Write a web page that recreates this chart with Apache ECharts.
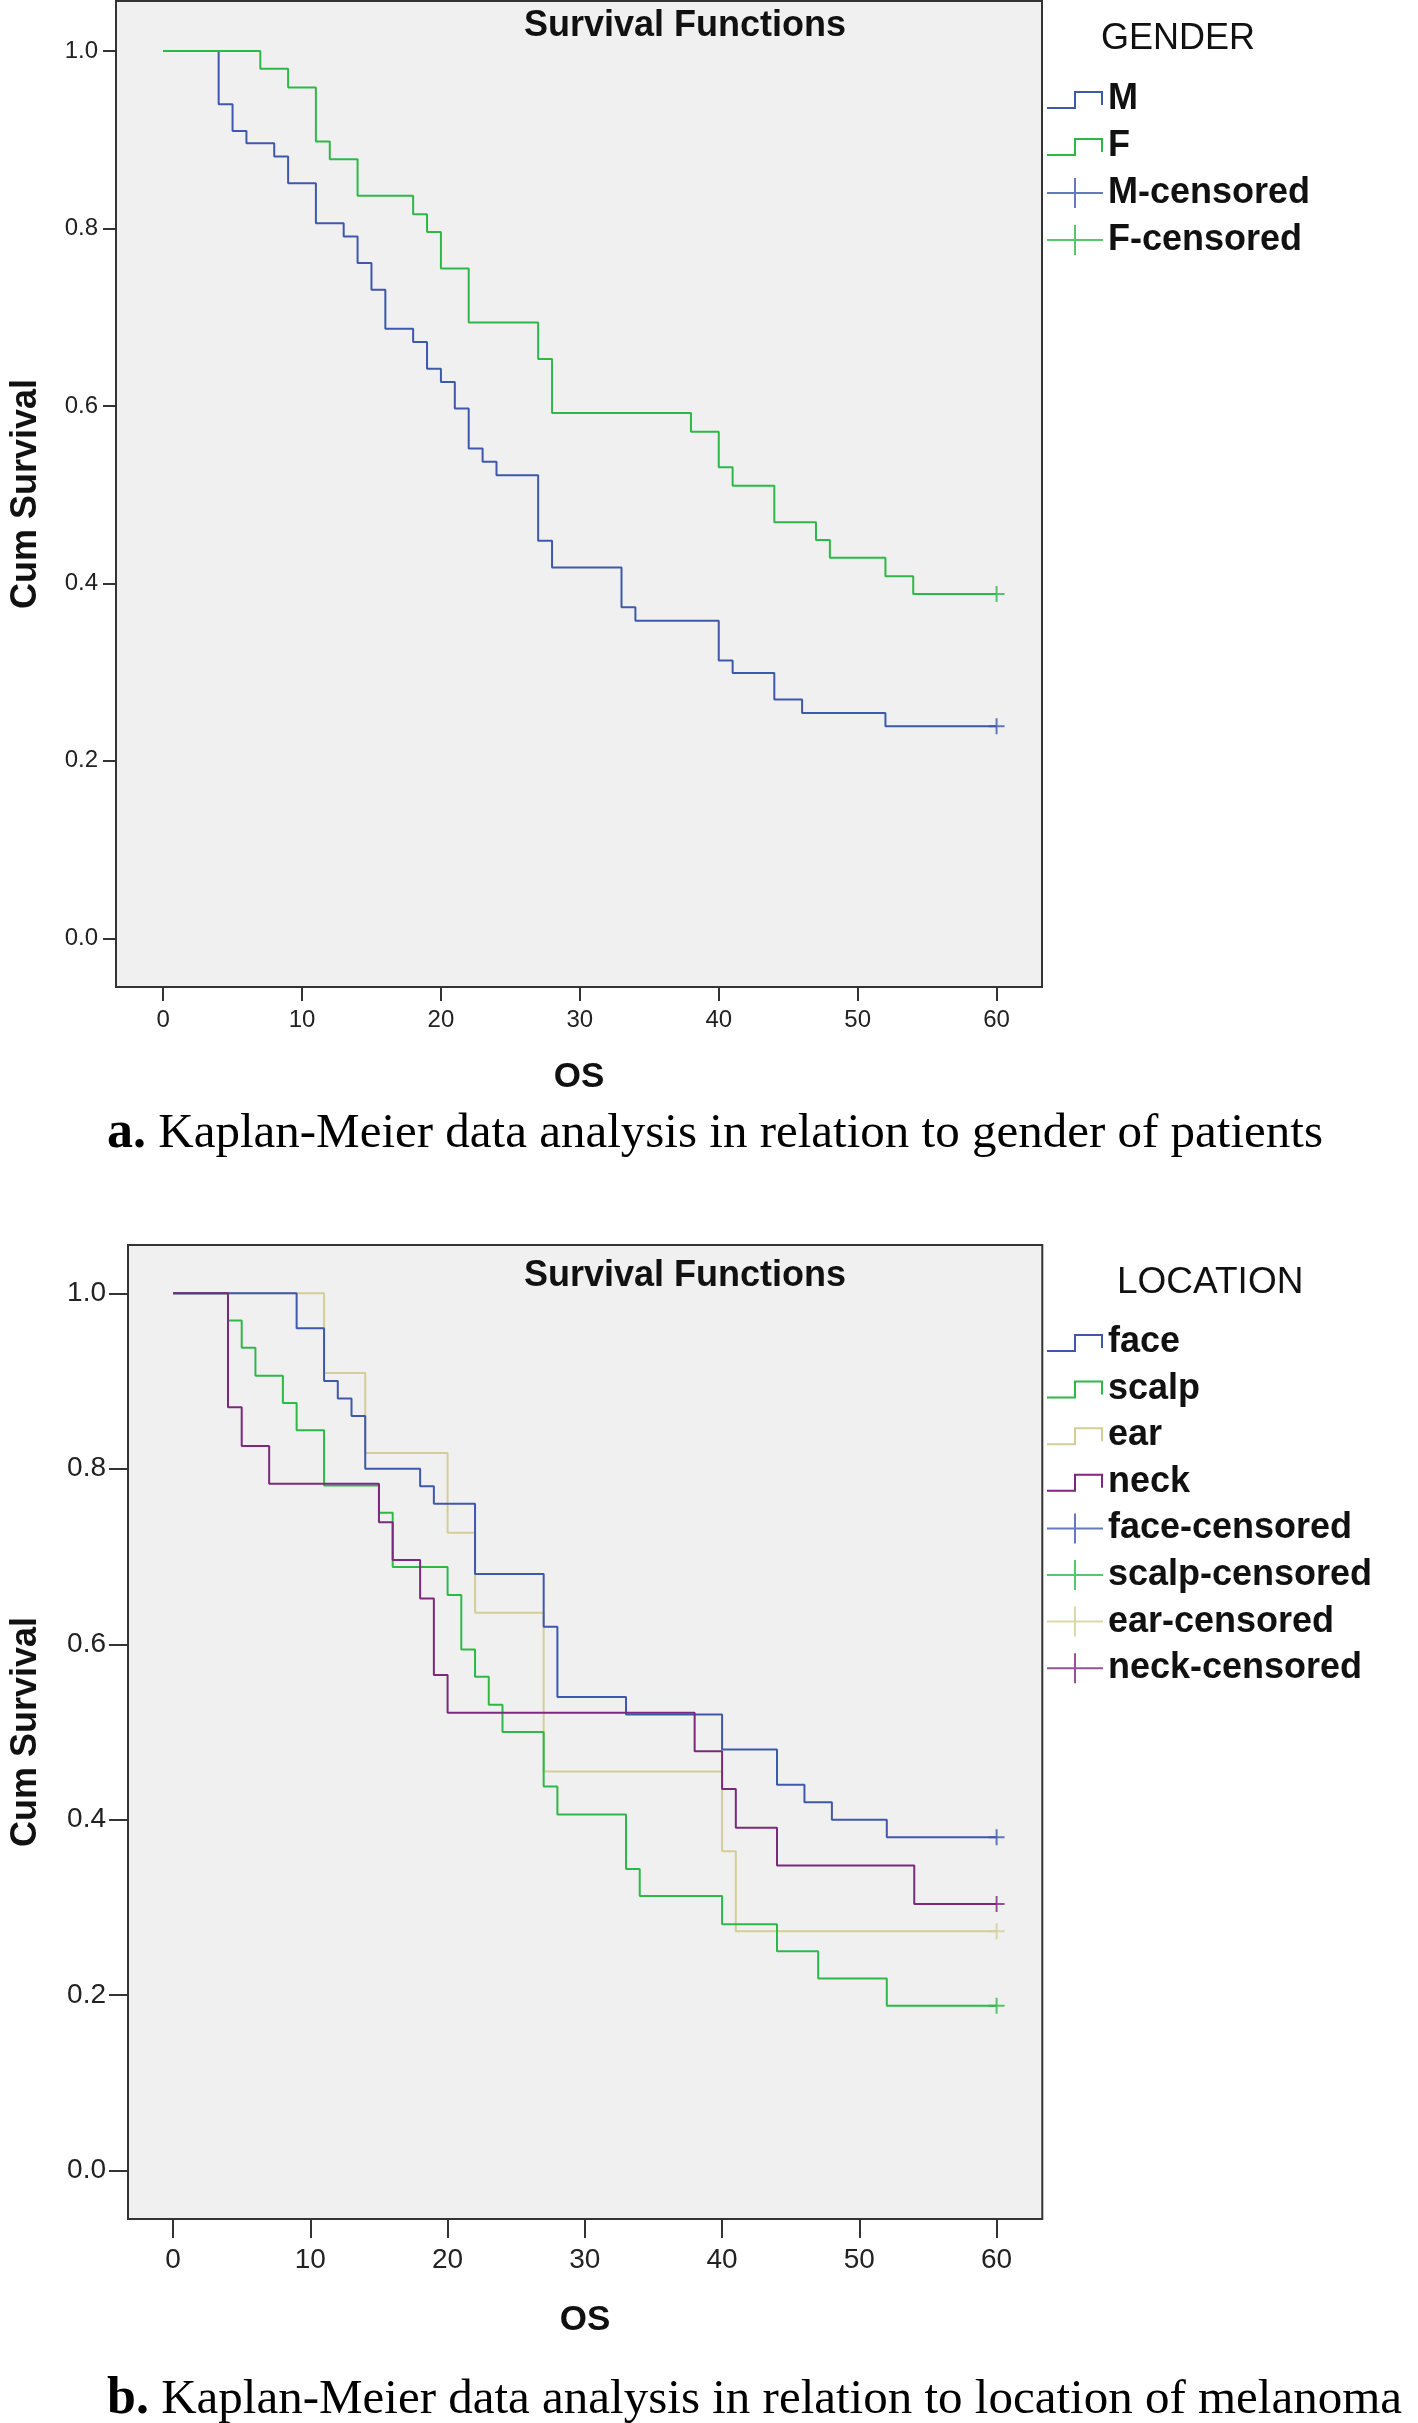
<!DOCTYPE html>
<html><head><meta charset="utf-8">
<script src="https://cdn.jsdelivr.net/npm/echarts@6/dist/echarts.min.js"></script>
<style>html,body{margin:0;padding:0;background:#fff}#c{width:1418px;height:2423px}</style>
</head><body><div id="c"></div>
<script>
// ---------- data: chart a (gender) ----------
const mTimes = [0,4,5,6,8,9,11,13,14,15,16,18,19,20,21,22,23,24,27,28,33,34,40,41,44,46,52,60];
const mSurv  = [1,0.940,0.910,0.896,0.881,0.851,0.806,0.791,0.761,0.731,0.687,0.672,0.642,0.627,0.597,0.552,0.537,0.522,0.448,0.418,0.373,0.358,0.313,0.299,0.269,0.254,0.239,0.239];
const fTimes = [0,7,9,11,12,14,18,19,20,22,27,28,38,40,41,44,47,48,52,54,60];
const fSurv  = [1,0.980,0.959,0.898,0.878,0.837,0.816,0.796,0.755,0.694,0.653,0.592,0.571,0.531,0.510,0.469,0.449,0.429,0.408,0.388,0.388];
const mCensorTimes = [60];
const fCensorTimes = [60];
// ---------- data: chart b (location) ----------
const faceTimes  = [0,9,11,12,13,14,18,19,22,27,28,33,40,44,46,48,52,60];
const faceSurv   = [1,0.96,0.90,0.88,0.86,0.80,0.78,0.76,0.68,0.62,0.54,0.52,0.48,0.44,0.42,0.40,0.38,0.38];
const scalpTimes = [0,4,5,6,8,9,11,15,16,20,21,22,23,24,27,28,33,34,40,44,47,52,60];
const scalpSurv  = [1,0.969,0.938,0.906,0.875,0.844,0.781,0.750,0.688,0.656,0.594,0.563,0.531,0.500,0.438,0.406,0.344,0.313,0.281,0.250,0.219,0.188,0.188];
const earTimes   = [0,11,14,20,22,27,40,41,60];
const earSurv    = [1,0.909,0.818,0.727,0.636,0.455,0.364,0.273,0.273];
const neckTimes  = [0,4,5,7,15,16,18,19,20,38,40,41,44,54,60];
const neckSurv   = [1,0.870,0.826,0.783,0.739,0.696,0.652,0.565,0.522,0.478,0.435,0.391,0.348,0.304,0.304];
const faceCensorTimes = [60], scalpCensorTimes = [60], earCensorTimes = [60], neckCensorTimes = [60];
// ---------- ticks / labels ----------
const xTicks = [0,10,20,30,40,50,60];
const yTicks = [0,0.2,0.4,0.6,0.8,1.0];
const genderNames = ['M','F'];
const locationNames = ['face','scalp','ear','neck'];

const SANS = 'Liberation Sans, Arial, sans-serif';
const SERIF = 'Liberation Serif, Times New Roman, serif';
const C = {blue:'#3e58ac', green:'#2eb848', tan:'#d3ce97', purple:'#7c287d'};

function pairs(t, s){ return t.map((v,i)=>[v, s[i]]); }
function censorPts(ct, t, s){
  return ct.map(c=>{ let v=s[0]; for(let i=0;i<t.length;i++){ if(t[i]<=c) v=s[i]; } return [c, v]; });
}
const STEP_ICON = 'path://M0,0 M0,23 H27 V7 H56 V21 H54 V9 H29 V25 H0 Z M56,30';
const CROSS_ICON = 'path://M0,14 H27 V0 H29 V14 H56 V16 H29 V30 H27 V16 H0 Z';
const PLUS = 'path://M7,0 H9 V7 H16 V9 H9 V16 H7 V9 H0 V7 H7 Z';

function stepSeries(name, t, s, color, gi){
  return {type:'line', name, step:'end', symbol:'none', xAxisIndex:gi, yAxisIndex:gi,
    data:pairs(t,s), lineStyle:{color, width:2}, itemStyle:{color}, silent:true, z:3};
}
function censorSeries(name, ct, t, s, color, gi){
  return {type:'scatter', name, xAxisIndex:gi, yAxisIndex:gi, symbol:PLUS, symbolSize:16,
    data:censorPts(ct,t,s), itemStyle:{color}, silent:true, z:4};
}
function xAx(gi, min, max, tickLen, labSize, margin, nameGap){
  return {gridIndex:gi, type:'value', min, max,
    axisLine:{show:false, onZero:false},
    axisTick:{show:true, inside:false, length:tickLen, customValues:xTicks, lineStyle:{color:'#333', width:2}},
    axisLabel:{customValues:xTicks, margin, fontSize:labSize, fontFamily:SANS, color:'#222'},
    splitLine:{show:false},
    name:'OS', nameLocation:'middle', nameGap,
    nameTextStyle:{fontSize:35, fontWeight:'bold', fontFamily:SANS, color:'#111'}};
}
function yAx(gi, min, max, tickLen, labSize, margin, nameGap){
  return {gridIndex:gi, type:'value', min, max,
    axisLine:{show:false, onZero:false},
    axisTick:{show:true, inside:false, length:tickLen, customValues:yTicks, lineStyle:{color:'#333', width:2}},
    axisLabel:{customValues:yTicks, margin, fontSize:labSize, fontFamily:SANS, color:'#222', formatter:v=>v.toFixed(1)},
    splitLine:{show:false},
    name:'Cum Survival', nameLocation:'middle', nameRotate:90, nameGap,
    nameTextStyle:{fontSize:36, fontWeight:'bold', fontFamily:SANS, color:'#111'}};
}
const legendText = {fontSize:36, fontWeight:'bold', fontFamily:SANS, color:'#111', lineHeight:40};

const chart = echarts.init(document.getElementById('c'), null, {renderer:'canvas'});
chart.setOption({
  animation:false,
  backgroundColor:'#fff',
  title:[
    {text:'Survival Functions', left:685, top:6, textAlign:'center', padding:0,
      textStyle:{fontSize:36, fontWeight:'bold', fontFamily:SANS, color:'#111', lineHeight:40}},
    {text:'GENDER', left:1101, top:19, padding:0,
      textStyle:{fontSize:36, fontWeight:'normal', fontFamily:SANS, color:'#111', lineHeight:40}},
    {text:'{b|a.} Kaplan-Meier data analysis in relation to gender of patients', left:107, top:1106, padding:0,
      textStyle:{fontSize:49, fontWeight:'normal', fontFamily:SERIF, color:'#000', lineHeight:56,
        rich:{b:{fontSize:52, fontWeight:'bold', fontFamily:SERIF, color:'#000', lineHeight:56}}}},
    {text:'Survival Functions', left:685, top:1256, textAlign:'center', padding:0,
      textStyle:{fontSize:36, fontWeight:'bold', fontFamily:SANS, color:'#111', lineHeight:40}},
    {text:'LOCATION', left:1117, top:1263, padding:0,
      textStyle:{fontSize:37, fontWeight:'normal', fontFamily:SANS, color:'#111', lineHeight:40}},
    {text:'{b|b.} Kaplan-Meier data analysis in relation to location of melanoma', left:107, top:2372, padding:0,
      textStyle:{fontSize:49, fontWeight:'normal', fontFamily:SERIF, color:'#000', lineHeight:56,
        rich:{b:{fontSize:52, fontWeight:'bold', fontFamily:SERIF, color:'#000', lineHeight:56}}}}
  ],
  legend:[
    {orient:'vertical', left:1047, top:79, padding:0, itemWidth:56, itemHeight:30, itemGap:7,
      textStyle:legendText, itemStyle:{borderWidth:0},
      data:[
        {name:genderNames[0], icon:STEP_ICON},
        {name:genderNames[1], icon:STEP_ICON},
        {name:genderNames[0]+'-censored', icon:CROSS_ICON},
        {name:genderNames[1]+'-censored', icon:CROSS_ICON}
      ]},
    {orient:'vertical', left:1047, top:1322, padding:0, itemWidth:56, itemHeight:30, itemGap:6.6,
      textStyle:legendText, itemStyle:{borderWidth:0},
      data:locationNames.map(n=>({name:n, icon:STEP_ICON}))
        .concat(locationNames.map(n=>({name:n+'-censored', icon:CROSS_ICON})))}
  ],
  grid:[
    {left:105.7, top:1, width:936.3, height:986, show:true, backgroundColor:'#f0f0f0', borderColor:'#333', borderWidth:2},
    {left:117.7, top:1245, width:924.6, height:974, show:true, backgroundColor:'#f0f0f0', borderColor:'#333', borderWidth:2}
  ],
  xAxis:[ xAx(0, -3.39, 63.27, 14, 24, 21, 73), xAx(1, -3.285, 63.33, 19, 28, 27, 84) ],
  yAxis:[ yAx(0, -0.0549, 1.0564, 13, 24, 18, 72), yAx(1, -0.055, 1.055, 19, 28, 22, 84) ],
  series:[
    stepSeries('M', mTimes, mSurv, C.blue, 0),
    stepSeries('F', fTimes, fSurv, C.green, 0),
    censorSeries('M-censored', mCensorTimes, mTimes, mSurv, C.blue, 0),
    censorSeries('F-censored', fCensorTimes, fTimes, fSurv, C.green, 0),
    stepSeries('ear', earTimes, earSurv, C.tan, 1),
    stepSeries('scalp', scalpTimes, scalpSurv, C.green, 1),
    stepSeries('face', faceTimes, faceSurv, C.blue, 1),
    stepSeries('neck', neckTimes, neckSurv, C.purple, 1),
    censorSeries('face-censored', faceCensorTimes, faceTimes, faceSurv, C.blue, 1),
    censorSeries('scalp-censored', scalpCensorTimes, scalpTimes, scalpSurv, C.green, 1),
    censorSeries('ear-censored', earCensorTimes, earTimes, earSurv, C.tan, 1),
    censorSeries('neck-censored', neckCensorTimes, neckTimes, neckSurv, C.purple, 1)
  ]
});
</script></body></html>
